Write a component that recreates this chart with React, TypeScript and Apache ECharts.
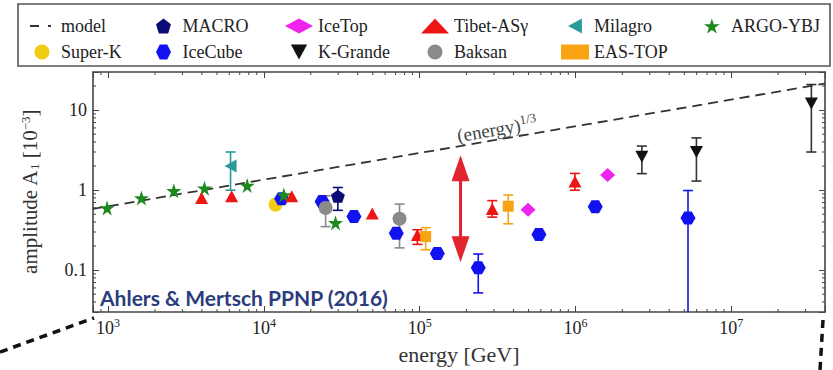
import React, { useEffect, useRef } from 'react';
import * as echarts from 'echarts';

const X_MIN = 800;
const X_MAX = 4e7;
const Y_MIN = 0.03;
const Y_MAX = 30;

const X_DECADES = [100, 1e3, 1e4, 1e5, 1e6, 1e7];
const Y_DECADES = [0.01, 0.1, 1, 10];
const MINOR_MULTS = [2, 3, 4, 5, 6, 7, 8, 9];

const modelE = [800, 4e7];
const modelA = [0.583, 21.5];

const argoE = [986, 1637, 2642, 4157, 7816, 13430, 28840];
const argoA = [0.6, 0.8, 0.98, 1.06, 1.14, 0.87, 0.39];

const tibetE = [3981, 6210, 15100, 49630, 96700, 292500, 993000];
const tibetA = [0.8, 0.84, 0.84, 0.51, 0.275, 0.58, 1.28];
const tibetLo = [null, null, null, null, 0.21, 0.46, 1.0];
const tibetHi = [null, null, null, null, 0.32, 0.74, 1.62];

const milagroE = [6110];
const milagroA = [2.0];
const milagroLo = [1.0];
const milagroHi = [3.0];

const superkE = [11890];
const superkA = [0.66];

const icecubeE = [13000, 23660, 37860, 70800, 129800, 237800, 583000, 1.34e6, 5.28e6];
const icecubeA = [0.78, 0.72, 0.47, 0.29, 0.162, 0.107, 0.28, 0.62, 0.45];
const icecubeLo = [null, null, null, null, 0.145, 0.052, null, 0.57, 0.005];
const icecubeHi = [null, null, null, null, 0.18, 0.159, null, 0.67, 0.99];

const macroE = [29850];
const macroA = [0.84];
const macroLo = [0.56];
const macroHi = [1.08];

const baksanE = [24900, 74300];
const baksanA = [0.6, 0.44];
const baksanLo = [0.35, 0.19];
const baksanHi = [0.85, 0.67];

const eastopE = [109300, 370400];
const eastopA = [0.263, 0.63];
const eastopLo = [0.18, 0.38];
const eastopHi = [0.34, 0.87];

const icetopE = [496500, 1.61e6];
const icetopA = [0.57, 1.55];

const kgrandeE = [2.67e6, 5.98e6, 3.27e7];
const kgrandeA = [2.61, 3.0, 12.1];
const kgrandeLo = [1.61, 1.3, 3.0];
const kgrandeHi = [3.56, 4.5, 20.9];

const arrowE = [1.83e5];
const arrowLo = [0.126];
const arrowHi = [2.73];

const SERIF = '"Liberation Serif", "Times New Roman", serif';

const HEX = 'path://M0,50 L25,0 L75,0 L100,50 L75,100 L25,100 Z';
const PENT = 'path://M50,0 L100,38 L81,100 L19,100 L0,38 Z';
const STAR =
  'path://M50,0 L61.23,34.55 L97.55,34.55 L68.17,55.9 L79.39,90.45 L50,69.1 L20.61,90.45 L31.83,55.9 L2.45,34.55 L38.77,34.55 Z';
const TRI_DOWN = 'path://M0,0 L100,0 L50,92 Z';
const TRI_LEFT = 'path://M92,0 L92,100 L0,50 Z';
const MODEL_ICON =
  'path://M0,0 L0.01,0 L0.01,0.01 Z M2,6.5 L11,6.5 L11,8.6 L2,8.6 Z M20,6.5 L23,6.5 L23,8.6 L20,8.6 Z M28,15 L27.99,15 L27.99,14.99 Z';

const C = {
  argo: '#1e8a1e',
  tibet: '#ee1515',
  milagro: '#2a9a9a',
  superk: '#f2cc10',
  icecube: '#1212f0',
  macro: '#0c0c78',
  icetop: '#f022ee',
  kgrande: '#111111',
  baksan: '#8a8a8a',
  eastop: '#f7a312',
  arrow: '#e2242e',
};

function scatter(name: string, E: number[], A: number[], symbol: string, size: any, color: string) {
  return {
    type: 'scatter',
    name,
    data: E.map((e, i) => [e, A[i]]),
    symbol,
    symbolSize: size,
    itemStyle: { color, opacity: 1 },
    z: 5,
  };
}

function errBars(E: number[], lo: (number | null)[], hi: (number | null)[], color: string) {
  const data: number[][] = [];
  E.forEach((e, i) => {
    if (lo[i] != null && hi[i] != null) data.push([e, lo[i] as number, hi[i] as number]);
  });
  return {
    type: 'custom',
    data,
    clip: true,
    z: 3,
    encode: { x: 0, y: [1, 2] },
    renderItem: (params: any, api: any) => {
      const x = api.value(0);
      const p1 = api.coord([x, api.value(1)]);
      const p2 = api.coord([x, api.value(2)]);
      const st = { stroke: color, lineWidth: 1.6 };
      const w = 5;
      return {
        type: 'group',
        children: [
          { type: 'line', shape: { x1: p1[0], y1: p1[1], x2: p2[0], y2: p2[1] }, style: st },
          { type: 'line', shape: { x1: p1[0] - w, y1: p1[1], x2: p1[0] + w, y2: p1[1] }, style: st },
          { type: 'line', shape: { x1: p2[0] - w, y1: p2[1], x2: p2[0] + w, y2: p2[1] }, style: st },
        ],
      };
    },
  };
}

const xMinor: number[] = [];
X_DECADES.forEach((d) => MINOR_MULTS.forEach((m) => {
  const v = d * m;
  if (v > X_MIN && v < X_MAX) xMinor.push(v);
}));
const yMinor: number[] = [];
Y_DECADES.forEach((d) => MINOR_MULTS.forEach((m) => {
  const v = d * m;
  if (v > Y_MIN && v < Y_MAX) yMinor.push(v);
}));

const AXIS_COLOR = '#444';

function isPow10(v: number) {
  const l = Math.log10(v);
  return Math.abs(l - Math.round(l)) < 1e-6;
}

export default function App() {
  const ref = useRef<HTMLDivElement>(null);
  useEffect(() => {
    if (!ref.current) return;
    const chart = echarts.init(ref.current, null, { renderer: 'svg' });

    const axisCommon = {
      type: 'log',
      logBase: 10,
      axisLine: { show: true, lineStyle: { color: AXIS_COLOR, width: 1.6 } },
      axisTick: { show: true, inside: true, length: 6, lineStyle: { color: AXIS_COLOR, width: 1 } },
      splitLine: { show: false },
    };

    const legendCols: any[][] = [
      [{ name: 'model', icon: MODEL_ICON }, 'Super-K'],
      ['MACRO', 'IceCube'],
      ['IceTop', { name: 'K-Grande', icon: TRI_DOWN }],
      ['Tibet-ASγ', 'Baksan'],
      [{ name: 'Milagro', icon: TRI_LEFT }, 'EAS-TOP'],
      ['ARGO-YBJ'],
    ];
    const legendLeft = [23, 151, 280, 416, 556, 699];

    const option: any = {
      animation: false,
      backgroundColor: '#ffffff',
      grid: { left: 93, top: 72, width: 732, height: 244, containLabel: false },
      legend: legendCols.map((col, i) => ({
        orient: 'vertical',
        left: legendLeft[i],
        top: 11,
        itemGap: 6,
        itemWidth: 28,
        itemHeight: 15,
        selectedMode: false,
        textStyle: { fontFamily: SERIF, fontSize: 18, color: '#222', lineHeight: 20 },
        data: col,
      })),
      xAxis: [
        {
          ...axisCommon,
          min: X_MIN,
          max: X_MAX,
          position: 'bottom',
          name: 'energy [GeV]',
          nameLocation: 'middle',
          nameGap: 31,
          nameTextStyle: { fontFamily: SERIF, fontSize: 22, color: '#333' },
          axisLabel: {
            margin: 5,
            fontFamily: SERIF,
            fontSize: 18,
            color: '#222',
            formatter: (v: number) => (isPow10(v) ? '10{sup|' + Math.round(Math.log10(v)) + '}' : ''),
            rich: { sup: { fontFamily: SERIF, fontSize: 12, color: '#222', padding: [0, 0, 9, 0] } },
          },
        },
        {
          ...axisCommon,
          min: X_MIN,
          max: X_MAX,
          position: 'top',
          axisLabel: { show: false },
        },
      ],
      yAxis: [
        {
          ...axisCommon,
          min: Y_MIN,
          max: Y_MAX,
          position: 'left',
          name: 'amplitude A{sub|1} [10{sup|−3}]',
          nameLocation: 'middle',
          nameGap: 52,
          nameTextStyle: {
            fontFamily: SERIF,
            fontSize: 21,
            color: '#333',
            rich: {
              sub: { fontFamily: SERIF, fontSize: 13, color: '#333', padding: [8, 0, 0, 0] },
              sup: { fontFamily: SERIF, fontSize: 13, color: '#333', padding: [0, 0, 9, 0] },
            },
          },
          axisLabel: {
            margin: 6,
            fontFamily: SERIF,
            fontSize: 18,
            color: '#222',
            formatter: (v: number) => (isPow10(v) ? String(+v.toPrecision(3)) : ''),
          },
        },
        {
          ...axisCommon,
          min: Y_MIN,
          max: Y_MAX,
          position: 'right',
          axisLabel: { show: false },
        },
      ],
      graphic: [
        {
          type: 'rect',
          shape: { x: 18, y: 4, width: 812, height: 62 },
          style: { fill: 'none', stroke: '#555', lineWidth: 1.6 },
          z: 1,
        },
        {
          type: 'text',
          left: 100,
          top: 287,
          style: {
            text: 'Ahlers & Mertsch PPNP (2016)',
            fontFamily: 'Lato, "Open Sans", sans-serif',
            fontWeight: 'bold',
            fontSize: 21,
            fill: '#2b3c7c',
          },
          z: 10,
        },
        {
          type: 'text',
          x: 497,
          y: 129,
          rotation: 0.17,
          style: {
            text: '(energy){sup|1/3}',
            fontFamily: SERIF,
            fontSize: 19,
            fill: '#444',
            align: 'center',
            verticalAlign: 'middle',
            rich: { sup: { fontFamily: SERIF, fontSize: 13, fill: '#444', padding: [0, 0, 10, 0] } },
          },
          z: 10,
        },
        {
          type: 'line',
          shape: { x1: 0, y1: 352, x2: 94, y2: 318 },
          style: { stroke: '#111', lineWidth: 3.5, lineDash: [8, 6] },
        },
        {
          type: 'line',
          shape: { x1: 823, y1: 320, x2: 820, y2: 370 },
          style: { stroke: '#111', lineWidth: 3.5, lineDash: [8, 6] },
        },
      ],
      series: [
        {
          type: 'custom',
          data: xMinor.map((v) => [v, Y_MIN]),
          encode: { x: 0, y: 1 },
          clip: false,
          silent: true,
          z: 1,
          renderItem: (params: any, api: any) => {
            const v = api.value(0);
            const b = api.coord([v, Y_MIN]);
            const t = api.coord([v, Y_MAX]);
            const st = { stroke: AXIS_COLOR, lineWidth: 1 };
            return {
              type: 'group',
              children: [
                { type: 'line', shape: { x1: b[0], y1: b[1], x2: b[0], y2: b[1] - 3 }, style: st },
                { type: 'line', shape: { x1: t[0], y1: t[1], x2: t[0], y2: t[1] + 3 }, style: st },
              ],
            };
          },
        },
        {
          type: 'custom',
          data: yMinor.map((v) => [X_MIN, v]),
          encode: { x: 0, y: 1 },
          clip: false,
          silent: true,
          z: 1,
          renderItem: (params: any, api: any) => {
            const v = api.value(1);
            const l = api.coord([X_MIN, v]);
            const r = api.coord([X_MAX, v]);
            const st = { stroke: AXIS_COLOR, lineWidth: 1 };
            return {
              type: 'group',
              children: [
                { type: 'line', shape: { x1: l[0], y1: l[1], x2: l[0] + 3, y2: l[1] }, style: st },
                { type: 'line', shape: { x1: r[0], y1: r[1], x2: r[0] - 3, y2: r[1] }, style: st },
              ],
            };
          },
        },
        {
          type: 'line',
          name: 'model',
          data: modelE.map((e, i) => [e, modelA[i]]),
          symbol: 'none',
          showSymbol: false,
          lineStyle: { color: '#333', width: 1.8, type: [10, 6] },
          itemStyle: { color: '#333' },
          z: 2,
        },
        {
          type: 'custom',
          data: arrowE.map((e, i) => [e, arrowLo[i], arrowHi[i]]),
          encode: { x: 0, y: [1, 2] },
          z: 4,
          renderItem: (params: any, api: any) => {
            const x = api.value(0);
            const lo = api.coord([x, api.value(1)]);
            const hi = api.coord([x, api.value(2)]);
            const hw = 9;
            const hl = 26;
            return {
              type: 'group',
              children: [
                {
                  type: 'line',
                  shape: { x1: lo[0], y1: lo[1] - hl + 2, x2: hi[0], y2: hi[1] + hl - 2 },
                  style: { stroke: C.arrow, lineWidth: 3 },
                },
                {
                  type: 'polygon',
                  shape: { points: [[hi[0], hi[1]], [hi[0] - hw, hi[1] + hl], [hi[0] + hw, hi[1] + hl]] },
                  style: { fill: C.arrow },
                },
                {
                  type: 'polygon',
                  shape: { points: [[lo[0], lo[1]], [lo[0] - hw, lo[1] - hl], [lo[0] + hw, lo[1] - hl]] },
                  style: { fill: C.arrow },
                },
              ],
            };
          },
        },
        errBars(tibetE, tibetLo, tibetHi, C.tibet),
        errBars(milagroE, milagroLo, milagroHi, C.milagro),
        errBars(icecubeE, icecubeLo, icecubeHi, C.icecube),
        errBars(macroE, macroLo, macroHi, C.macro),
        errBars(baksanE, baksanLo, baksanHi, C.baksan),
        errBars(eastopE, eastopLo, eastopHi, C.eastop),
        errBars(kgrandeE, kgrandeLo, kgrandeHi, '#333'),
        scatter('Super-K', superkE, superkA, 'circle', 14, C.superk),
        scatter('IceCube', icecubeE, icecubeA, HEX, [15, 13], C.icecube),
        scatter('Baksan', baksanE, baksanA, 'circle', 14, C.baksan),
        scatter('MACRO', macroE, macroA, PENT, [14, 13], C.macro),
        scatter('ARGO-YBJ', argoE, argoA, STAR, 15, C.argo),
        scatter('Tibet-ASγ', tibetE, tibetA, 'triangle', [13, 12], C.tibet),
        scatter('Milagro', milagroE, milagroA, TRI_LEFT, [12, 13], C.milagro),
        scatter('IceTop', icetopE, icetopA, 'diamond', [15, 14], C.icetop),
        scatter('EAS-TOP', eastopE, eastopA, 'rect', 11, C.eastop),
        scatter('K-Grande', kgrandeE, kgrandeA, TRI_DOWN, [13, 12], C.kgrande),
      ],
    };
    chart.setOption(option);
    return () => chart.dispose();
  }, []);

  return (
    <div
      ref={ref}
      style={{ position: 'absolute', left: 0, top: 0, width: 833, height: 370, background: '#fff' }}
    />
  );
}
